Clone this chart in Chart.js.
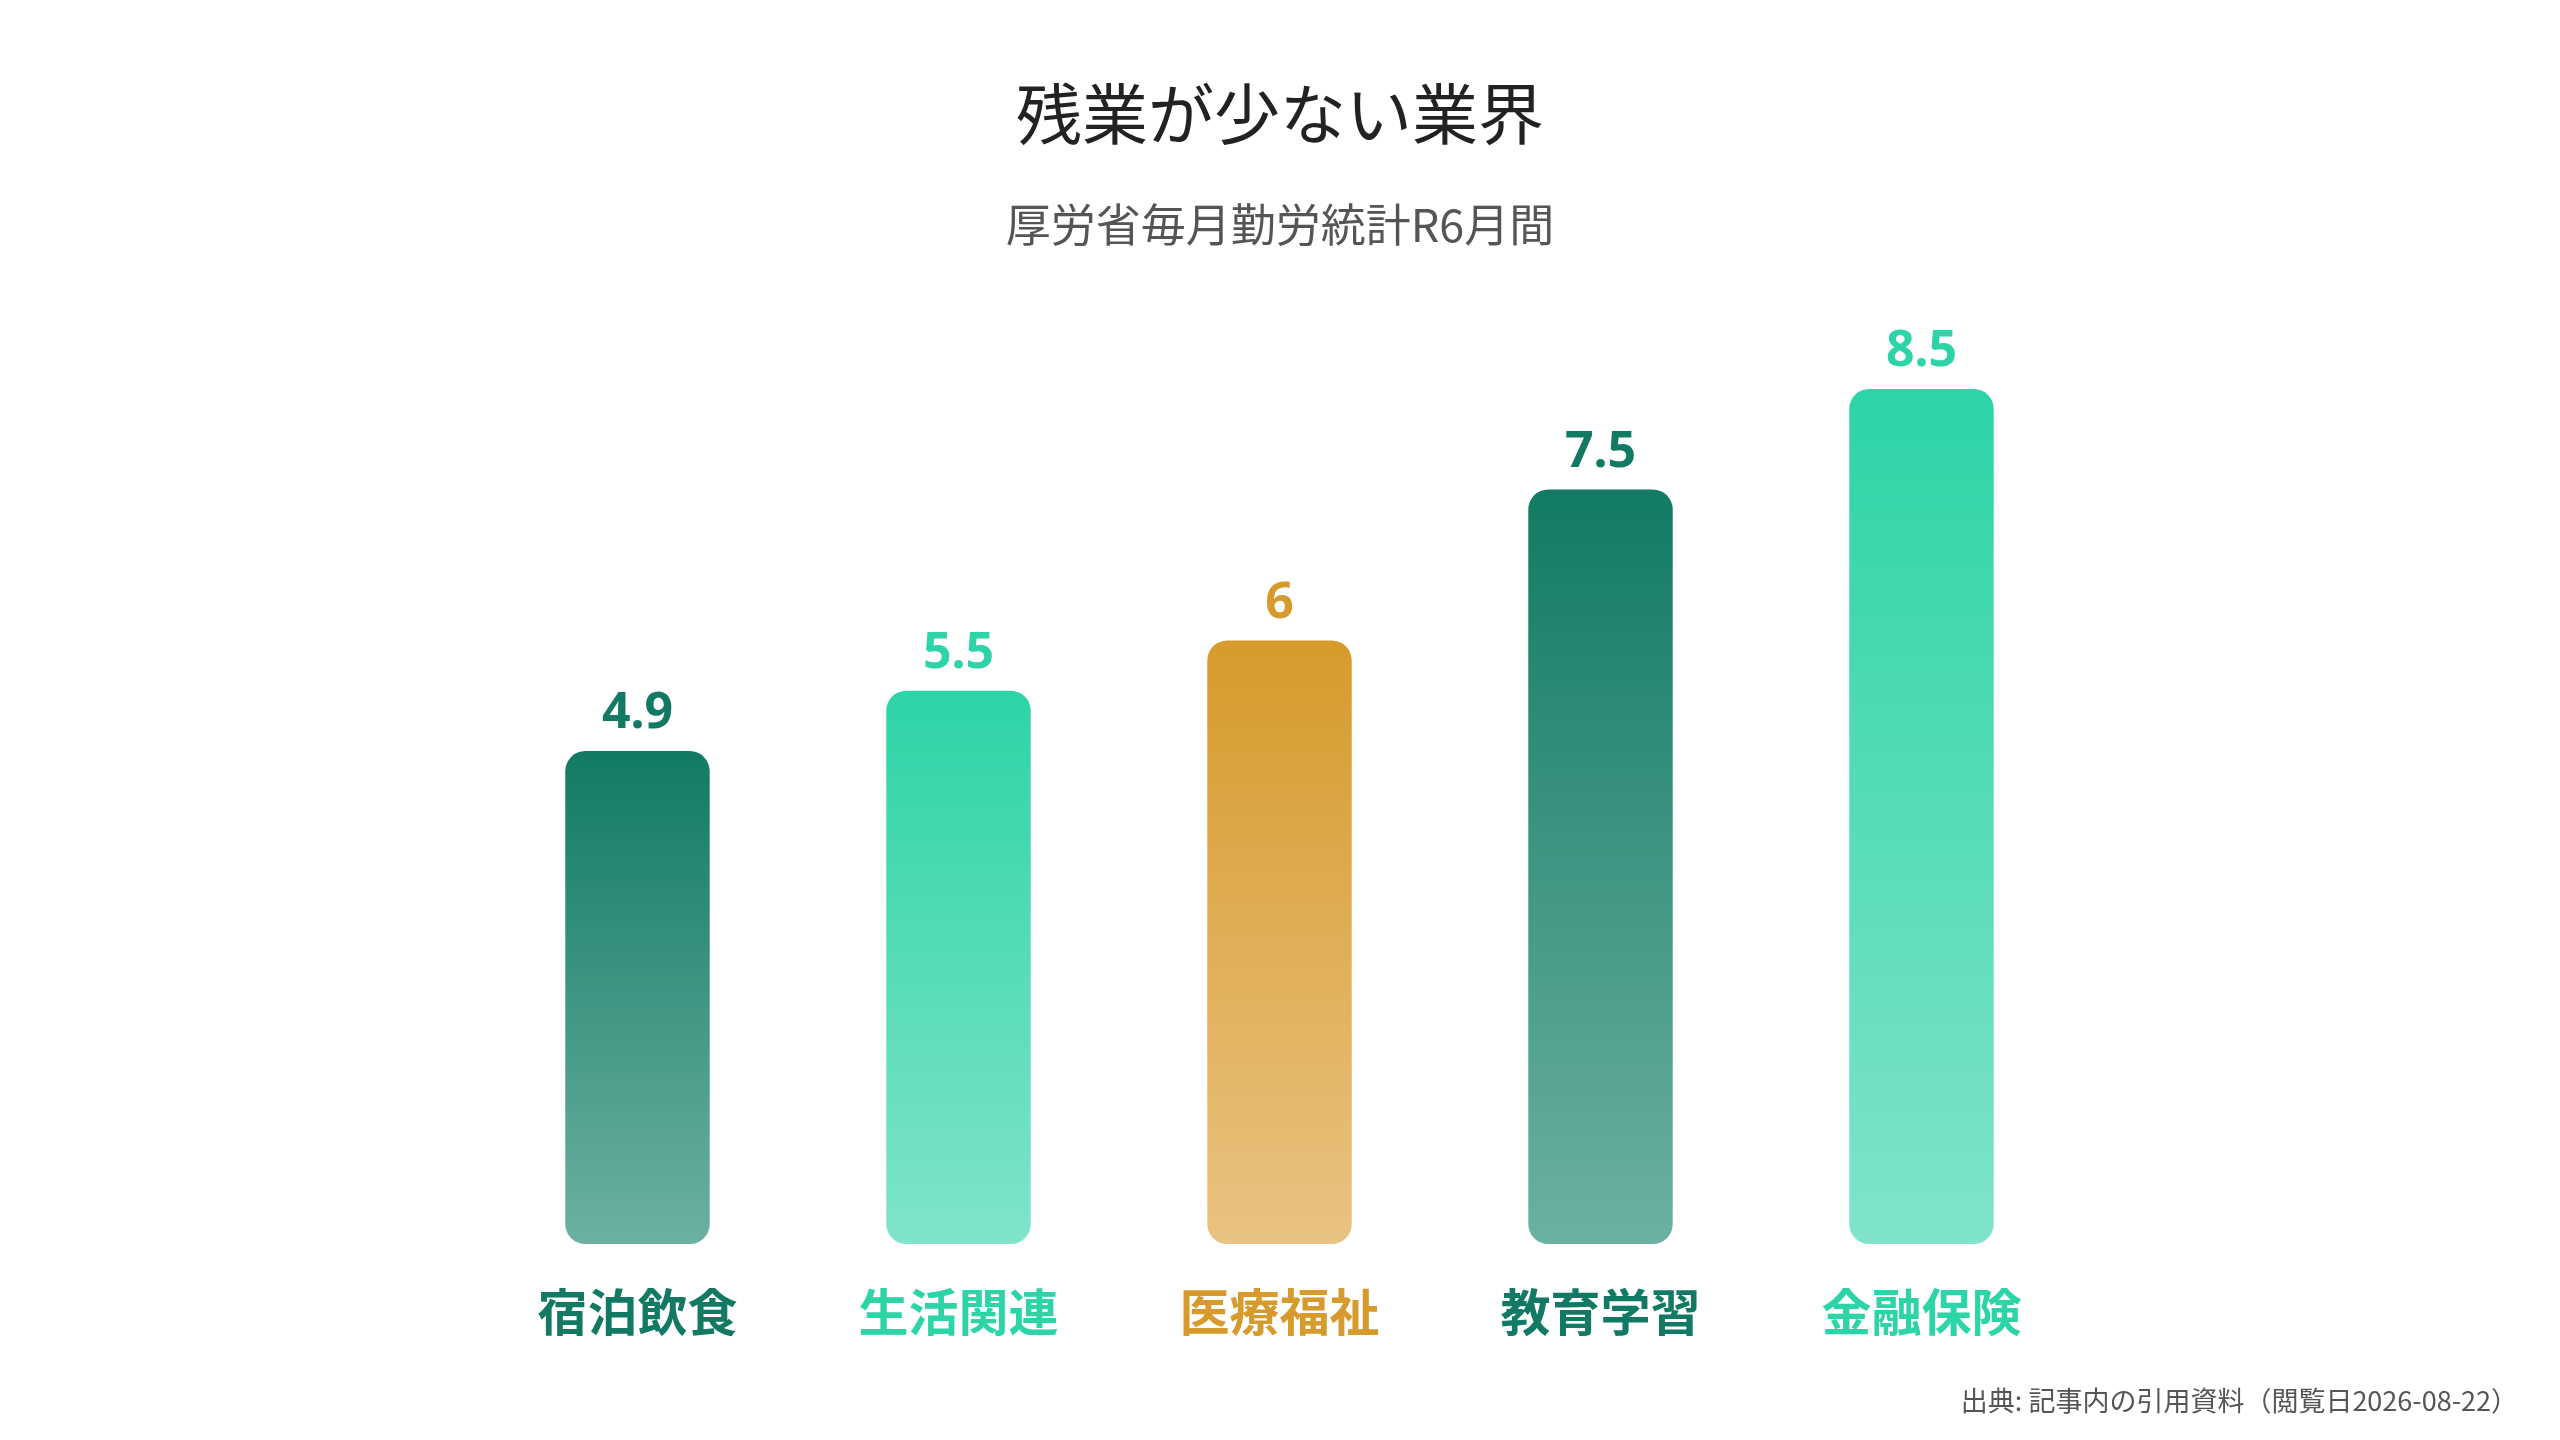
<!DOCTYPE html>
<html>
<head>
<meta charset="utf-8">
<script src="https://cdn.jsdelivr.net/npm/chart.js@4"></script>
<style>
  body { margin: 0; background: #fff; font-family: "Noto Sans CJK JP", sans-serif; }
  #wrap { position: relative; width: 2560px; height: 1440px; }
  #title { position: absolute; top: 62px; width: 100%; text-align: center; font-size: 66px; color: #222; }
  #subtitle { position: absolute; top: 190px; width: 100%; text-align: center; font-size: 45px; color: #555; }
  #source { position: absolute; right: 42px; top: 1380px; font-size: 27px; color: #555; }
  canvas { position: absolute; left: 0; top: 0; }
</style>
</head>
<body>
<div id="wrap">
  <canvas id="chart" width="2560" height="1440"></canvas>
  <div id="title">残業が少ない業界</div>
  <div id="subtitle">厚労省毎月勤労統計R6月間</div>
  <div id="source">出典: 記事内の引用資料（閲覧日2026-08-22）</div>
</div>
<script>
// Chart data
const categories = ['宿泊飲食', '生活関連', '医療福祉', '教育学習', '金融保険'];
const hours = [4.9, 5.5, 6, 7.5, 8.5];
const topColors = ['#127a64', '#2dd4a7', '#d79a2c', '#127a64', '#2dd4a7'];
const bottomColors = ['#6cb1a2', '#80e4c9', '#e9c382', '#6cb1a2', '#80e4c9'];

// Draw value labels above each bar
const valueLabels = {
  id: 'valueLabels',
  afterDatasetsDraw(chart) {
    const c = chart.ctx;
    const meta = chart.getDatasetMeta(0);
    c.save();
    c.font = 'bold 50px "Noto Sans", sans-serif';
    c.textAlign = 'center';
    c.textBaseline = 'bottom';
    meta.data.forEach((bar, i) => {
      c.fillStyle = topColors[i];
      c.fillText(String(hours[i]), bar.x, bar.y - 12);
    });
    c.restore();
  }
};

new Chart(document.getElementById('chart').getContext('2d'), {
  type: 'bar',
  data: {
    labels: categories,
    datasets: [{
      data: hours,
      backgroundColor(context) {
        const chart = context.chart;
        const y = chart.scales.y;
        const i = context.dataIndex;
        if (!chart.chartArea || !y) return topColors[i];
        const top = y.getPixelForValue(hours[i]);
        const bottom = y.getPixelForValue(0);
        if (!Number.isFinite(top) || !Number.isFinite(bottom)) return topColors[i];
        const g = chart.ctx.createLinearGradient(0, top, 0, bottom);
        g.addColorStop(0, topColors[i]);
        g.addColorStop(1, bottomColors[i]);
        return g;
      },
      borderRadius: 20,
      borderSkipped: false,
      barPercentage: 0.45,
      categoryPercentage: 1
    }]
  },
  options: {
    responsive: false,
    animation: false,
    layout: { padding: { left: 477, right: 478, top: 238, bottom: 68 } },
    plugins: { legend: { display: false }, tooltip: { enabled: false } },
    scales: {
      x: {
        grid: { display: false },
        border: { display: false },
        ticks: {
          padding: 30,
          font: { size: 50, weight: 'bold', family: '"Noto Sans CJK JP", sans-serif' },
          color: topColors
        }
      },
      y: {
        display: false,
        min: 0,
        max: 10
      }
    }
  },
  plugins: [valueLabels]
});
</script>
</body>
</html>
